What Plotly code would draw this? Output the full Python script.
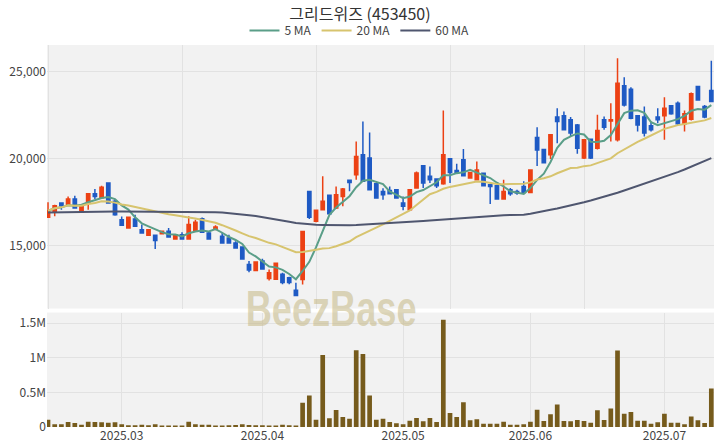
import pandas as pd
import plotly.graph_objects as go

# ---- data -------------------------------------------------------------
holidays = ["2025-03-03", "2025-05-01", "2025-05-05", "2025-05-06", "2025-06-03", "2025-06-06"]
dates = [d for d in pd.bdate_range("2025-02-13", "2025-07-10") if d.strftime("%Y-%m-%d") not in holidays]
date_labels = [d.strftime("%Y-%m-%d") for d in dates]

opens = [16630, 16920, 17450, 17360, 17680, 17010, 17450, 17990, 17760, 18600,
         17550, 16490, 16010, 16530, 15920, 15600, 15600, 15690, 15830, 15380,
         15630, 15380, 15880, 16550, 15730, 15940, 15540, 15440, 15150, 14920,
         13920, 13570, 14120, 13110, 13070, 13350, 13150, 12430, 13050, 18110,
         16400, 17070, 17900, 17160, 17830, 18760, 19080, 20230, 20040, 18560,
         18120, 18180, 18220, 17450, 17070, 18320, 19600, 18990, 18830, 18560,
         20000, 19330, 19940, 18890, 18790, 19170, 18500, 18450, 17680, 18220,
         18120, 18410, 18060, 21220, 20540, 20230, 22400, 22470, 22240, 21950,
         20040, 21130, 20610, 22240, 22180, 21090, 24200, 24000, 22470, 22400,
         21900, 22400, 22470, 23050, 23200, 22010, 22280, 24160, 23010, 23930]
highs = [17490, 17360, 17460, 17830, 17870, 17400, 18000, 18260, 18450, 18600,
         17680, 16680, 16630, 16780, 16220, 15950, 15600, 15870, 16020, 15650,
         15770, 16690, 16490, 16620, 15820, 16170, 15790, 15630, 15250, 14960,
         14120, 14080, 14250, 13630, 14020, 13440, 13210, 12860, 15830, 18110,
         17070, 18990, 17930, 18410, 18320, 18790, 21000, 22150, 21510, 18600,
         18310, 18410, 18260, 17830, 18260, 19270, 19600, 19560, 18870, 22780,
         20000, 19710, 20560, 19250, 19840, 19210, 18510, 18510, 18790, 18320,
         18220, 18700, 19380, 21820, 20560, 21420, 22910, 22720, 22400, 22000,
         21130, 21150, 22530, 22430, 23200, 25790, 24690, 24120, 22500, 23010,
         22150, 22910, 23540, 23100, 23300, 22780, 23810, 24200, 23100, 25650]
lows = [16590, 16690, 17070, 17360, 17160, 16980, 17070, 17680, 17760, 17450,
        16720, 16150, 16000, 16100, 15720, 15580, 14810, 15650, 15480, 15360,
        15360, 15360, 15850, 15750, 15340, 15880, 15150, 15150, 14860, 14230,
        13460, 13540, 13640, 12990, 13050, 12780, 12780, 12120, 12760, 16530,
        16340, 17030, 16820, 17110, 17260, 18130, 18790, 18700, 18220, 17700,
        17640, 17960, 17720, 17030, 17030, 18280, 18320, 18600, 18320, 18510,
        18600, 19150, 18990, 18850, 18790, 18450, 17390, 17640, 17680, 17870,
        17930, 18030, 18030, 19580, 19750, 19980, 20900, 21640, 21280, 20290,
        19980, 19980, 20540, 21670, 21000, 21000, 23010, 22280, 21570, 21280,
        21570, 22050, 21090, 22530, 21950, 21570, 22200, 23350, 22340, 23280]
closes = [17010, 17300, 17300, 17680, 17160, 17360, 17990, 17830, 18360, 17450,
          16780, 16170, 16630, 16110, 15730, 15920, 15290, 15830, 15500, 15630,
          15380, 16210, 16340, 15770, 15380, 16070, 15150, 15150, 14870, 14230,
          13600, 14060, 13650, 13440, 13990, 12880, 12880, 12130, 15820, 16630,
          17030, 17550, 16840, 17930, 18260, 18640, 20130, 18700, 18220, 17740,
          17930, 17990, 17740, 17260, 18220, 19180, 18600, 18790, 18450, 20230,
          19210, 19180, 19020, 19210, 19360, 18450, 18410, 17680, 18120, 17990,
          18030, 18060, 19360, 20500, 19770, 21380, 22150, 21670, 21480, 20610,
          21090, 20040, 21630, 21820, 22240, 24350, 23100, 22340, 21950, 21480,
          21670, 22240, 22910, 22590, 22010, 22590, 23740, 23390, 22400, 23300]
volumes = [106000, 39000, 39000, 72000, 58000, 34000, 77000, 72000, 68000, 63000,
           68000, 39000, 24000, 24000, 34000, 24000, 39000, 20000, 20000, 20000,
           20000, 77000, 39000, 34000, 34000, 20000, 20000, 24000, 29000, 39000,
           29000, 24000, 24000, 20000, 20000, 34000, 24000, 20000, 350000, 457000,
           104000, 1040000, 125000, 247000, 145000, 118000, 1108000, 1056000, 457000, 106000,
           121000, 72000, 53000, 39000, 92000, 130000, 82000, 130000, 72000, 1550000,
           203000, 145000, 357000, 97000, 111000, 48000, 48000, 48000, 77000, 34000,
           34000, 39000, 77000, 251000, 87000, 184000, 324000, 87000, 82000, 101000,
           87000, 63000, 242000, 101000, 266000, 1106000, 193000, 217000, 92000, 92000,
           48000, 68000, 193000, 63000, 63000, 39000, 150000, 97000, 58000, 555000]
ma60 = [16900, 16910, 16920, 16930, 16940, 16950, 16950, 16960, 16960, 16960,
        16960, 16960, 16960, 16960, 16960, 16960, 16960, 16960, 16960, 16950,
        16950, 16950, 16940, 16940, 16930, 16920, 16900, 16870, 16840, 16800,
        16750, 16700, 16640, 16590, 16520, 16450, 16380, 16300, 16260, 16220,
        16200, 16190, 16180, 16170, 16170, 16180, 16190, 16210, 16240, 16260,
        16280, 16300, 16320, 16340, 16360, 16390, 16420, 16450, 16480, 16510,
        16540, 16570, 16600, 16630, 16670, 16700, 16720, 16740, 16750, 16760,
        16770, 16780, 16840, 16900, 16980, 17060, 17140, 17220, 17310, 17400,
        17500, 17600, 17700, 17810, 17920, 18040, 18170, 18300, 18420, 18540,
        18670, 18800, 18940, 19080, 19230, 19380, 19540, 19700, 19880, 20040]

close_s = pd.Series(closes)
ma5 = close_s.rolling(5, min_periods=1).mean()
ma20 = close_s.rolling(20, min_periods=1).mean()

month_names = ["2025-03-01", "2025-04-01", "2025-05-01", "2025-06-01", "2025-07-01"]
tick_labels = ["2025.03", "2025.04", "2025.05", "2025.06", "2025.07"]

# ---- figure -----------------------------------------------------------
UP = "#EC4114"
DOWN = "#1E5AC4"

fig = go.Figure()
fig.add_trace(go.Candlestick(
    x=date_labels, open=opens, high=highs, low=lows, close=closes,
    increasing=dict(line=dict(color=UP, width=1.5), fillcolor=UP),
    decreasing=dict(line=dict(color=DOWN, width=1.5), fillcolor=DOWN),
    whiskerwidth=0, showlegend=False, xaxis="x", yaxis="y", name="가격"))
fig.add_trace(go.Scatter(x=date_labels, y=ma5, mode="lines", name="5 MA",
                         line=dict(color="#5A9E88", width=2), xaxis="x", yaxis="y"))
fig.add_trace(go.Scatter(x=date_labels, y=ma20, mode="lines", name="20 MA",
                         line=dict(color="#D7C46E", width=2), xaxis="x", yaxis="y"))
fig.add_trace(go.Scatter(x=date_labels, y=ma60, mode="lines", name="60 MA",
                         line=dict(color="#4F566F", width=2), xaxis="x", yaxis="y"))
fig.add_trace(go.Bar(x=date_labels, y=volumes, marker=dict(color="#765B1C", line=dict(width=0)),
                     showlegend=False, xaxis="x2", yaxis="y2", name="거래량"))

# tick for each month sits at the last trading day on/before the 1st
tick_vals = []
for m in month_names:
    prior = [lab for lab in date_labels if lab <= m]
    tick_vals.append(prior[-1])

xr = [-0.15, len(date_labels) - 0.6]
grid = "#E2E2E2"
fig.update_layout(
    width=720, height=448,
    margin=dict(l=47, r=6, t=45, b=21),
    paper_bgcolor="white", plot_bgcolor="#F2F2F2",
    font=dict(family="Noto Sans CJK KR, Noto Sans, sans-serif", size=12, color="#444"),
    title=dict(text="그리드위즈 (453450)", x=0.5, xanchor="center", y=0.967, yanchor="middle",
               font=dict(size=16, color="#333")),
    legend=dict(orientation="h", x=0.4685, xanchor="center", y=1.0, yanchor="bottom",
                font=dict(size=12, color="#444"), bgcolor="rgba(0,0,0,0)"),
    bargap=0.3,
    xaxis=dict(domain=[0, 1], anchor="y", type="category", range=xr,
               tickmode="linear", tick0=0, dtick=20, showticklabels=False,
               showgrid=True, gridcolor=grid, rangeslider=dict(visible=False), zeroline=False),
    yaxis=dict(domain=[0.3102, 1], anchor="x", range=[11380, 26550],
               tickvals=[15000, 20000, 25000], tickformat=",", showgrid=True, gridcolor=grid,
               zeroline=False),
    xaxis2=dict(domain=[0, 1], anchor="y2", type="category", range=xr,
                tickmode="array", tickvals=tick_vals, ticktext=tick_labels,
                showgrid=True, gridcolor=grid, zeroline=False),
    yaxis2=dict(domain=[0, 0.2997], anchor="x2", range=[0, 1655000],
                tickvals=[0, 500000, 1000000, 1500000], ticktext=["0", "0.5M", "1M", "1.5M"],
                showgrid=True, gridcolor=grid, zeroline=False),
    annotations=[dict(text="BeezBase", xref="paper", yref="paper", x=0.426, y=0.31,
                      xanchor="center", yanchor="middle", showarrow=False,
                      font=dict(size=50, color="rgba(196,182,130,0.55)", weight="bold",
                                family="Liberation Sans, Arial, sans-serif"))],
)

post = """
document.body.style.margin = '0px';
var wm = document.querySelectorAll('.annotation-text');
wm.forEach(function (t) {
  if (t.textContent === 'BeezBase') {
    t.setAttribute('textLength', '171');
    t.setAttribute('lengthAdjust', 'spacingAndGlyphs');
  }
});
"""
fig.write_html("out.html", config={"displayModeBar": False}, post_script=post)
